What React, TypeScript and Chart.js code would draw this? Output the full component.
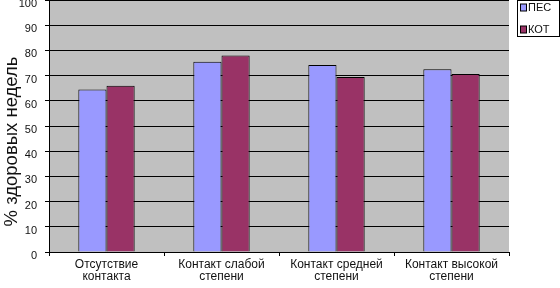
import React, { useEffect, useRef } from "react";
import { Chart, registerables } from "chart.js";

Chart.register(...registerables);

const categories: string[][] = [
  ["Отсутствие", "контакта"],
  ["Контакт слабой", "степени"],
  ["Контакт средней", "степени"],
  ["Контакт высокой", "степени"],
];
const dogValues = [64.5, 75.5, 74.2, 72.5];
const catValues = [66, 78, 69.4, 70.6];
const seriesNames = ["ПЕС", "КОТ"];
const seriesColors = ["#9999ff", "#993366"];
const yTitle = "% здоровых недель";
const yMin = 0;
const yMax = 100;
const yStep = 10;

const FONT = "'Liberation Sans', Arial, sans-serif";

export default function App() {
  const ref = useRef<HTMLCanvasElement | null>(null);

  useEffect(() => {
    const canvas = ref.current;
    if (!canvas) return;

    const bgPlugin = {
      id: "plotBg",
      beforeDraw(chart: any) {
        const { ctx, chartArea } = chart;
        ctx.save();
        ctx.fillStyle = "#c0c0c0";
        ctx.fillRect(chartArea.left, chartArea.top, chartArea.right - chartArea.left, chartArea.bottom - chartArea.top);
        ctx.restore();
      },
    };

    const extrasPlugin = {
      id: "extras",
      afterDraw(chart: any) {
        const { ctx } = chart;
        // y title
        ctx.save();
        ctx.translate(16.5, 141.5);
        ctx.rotate(-Math.PI / 2);
        ctx.font = `18.5px ${FONT}`;
        ctx.fillStyle = "#111";
        ctx.textAlign = "center";
        ctx.textBaseline = "alphabetic";
        ctx.fillText(yTitle, 0, 0);
        ctx.restore();

        // legend
        ctx.save();
        ctx.strokeStyle = "#000";
        ctx.lineWidth = 1;
        ctx.fillStyle = "#fff";
        ctx.fillRect(517, 0, 43, 36);
        ctx.strokeRect(517.5, 0.5, 42, 36);
        ctx.font = `11px ${FONT}`;
        ctx.textBaseline = "middle";
        ctx.textAlign = "left";
        const ys = [7.5, 29.5];
        seriesNames.forEach((n, i) => {
          ctx.fillStyle = seriesColors[i];
          ctx.fillRect(520.5, ys[i] - 3.5, 6, 7);
          ctx.strokeStyle = "#000";
          ctx.strokeRect(520.5, ys[i] - 3.5, 6, 7);
          ctx.fillStyle = "#111";
          ctx.fillText(n, 528, ys[i] + 0.5);
        });
        ctx.restore();
      },
    };

    const chart = new Chart(canvas, {
      type: "bar",
      data: {
        labels: categories,
        datasets: [
          {
            label: seriesNames[0],
            data: dogValues,
            backgroundColor: seriesColors[0],
            borderColor: "#000",
            borderWidth: 1,
            categoryPercentage: 0.49,
            barPercentage: 1,
          },
          {
            label: seriesNames[1],
            data: catValues,
            backgroundColor: seriesColors[1],
            borderColor: "#000",
            borderWidth: 1,
            categoryPercentage: 0.49,
            barPercentage: 1,
          },
        ],
      },
      options: {
        responsive: false,
        animation: false,
        devicePixelRatio: 1,
        layout: { padding: { top: 0, right: 51, left: 0, bottom: 0 } },
        plugins: {
          legend: { display: false },
          tooltip: { enabled: false },
        },
        scales: {
          x: {
            offset: true,
            grid: {
              offset: true,
              drawOnChartArea: false,
              drawTicks: true,
              tickLength: 4,
              color: "#000",
            },
            border: { color: "#000", width: 1 },
            ticks: {
              font: { family: FONT, size: 12, lineHeight: 1 },
              color: "#111",
              padding: 3,
              maxRotation: 0,
              autoSkip: false,
            },
            afterFit(scale: any) {
              scale.height = 36;
              scale.paddingLeft = 0;
              scale.paddingRight = 0;
            },
          },
          y: {
            min: yMin,
            max: yMax,
            grid: {
              color: "#000",
              lineWidth: 1,
              drawTicks: true,
              tickLength: 4,
            },
            border: { color: "#000", width: 1 },
            ticks: {
              stepSize: yStep,
              font: { family: FONT, size: 11 },
              color: "#111",
              padding: 8,
              labelOffset: 4,
            },
            afterFit(scale: any) {
              scale.width = 49;
              scale.paddingTop = 0;
              scale.paddingBottom = 0;
            },
          },
        },
      },
      plugins: [bgPlugin, extrasPlugin],
    });

    return () => chart.destroy();
  }, []);

  return (
    <div style={{ position: "absolute", left: 0, top: 0, width: 560, height: 288, background: "#fff" }}>
      <canvas ref={ref} width={560} height={288} />
    </div>
  );
}
